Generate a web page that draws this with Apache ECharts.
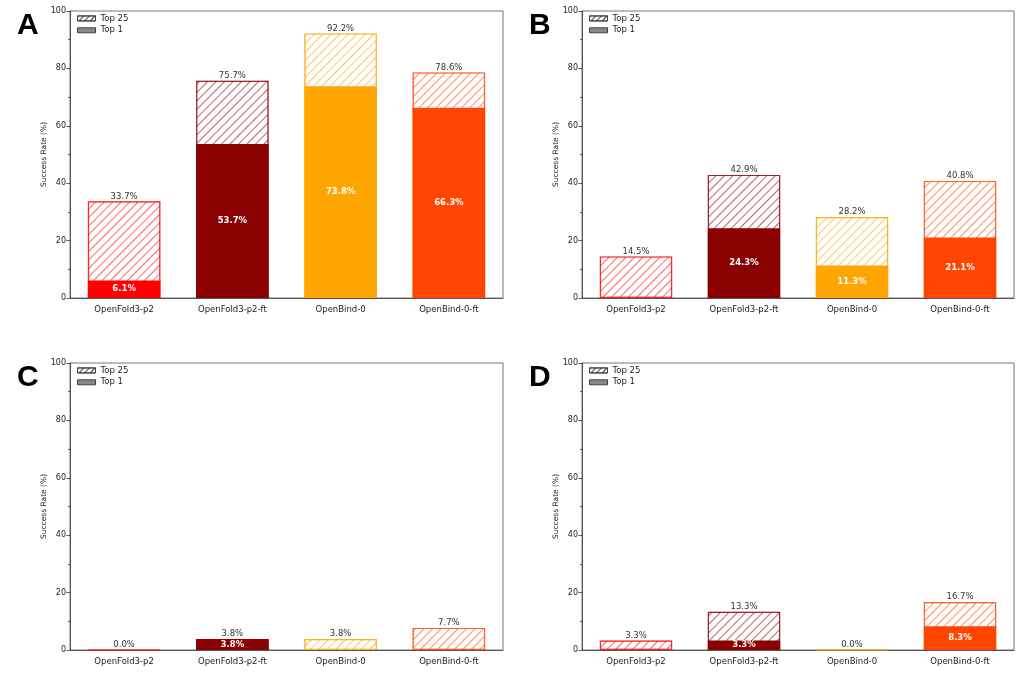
<!DOCTYPE html>
<title>success rates</title>
<style>
body {margin: 0; background: #fff;}
#echart {height: 682px; width: 1024px;}
</style>
<div id='echart'></div>
<script src='https://cdn.jsdelivr.net/npm/echarts@6.0.0/dist/echarts.min.js'></script>
<script>
let models = ['OpenFold3-p2', 'OpenFold3-p2-ft', 'OpenBind-0', 'OpenBind-0-ft']
let model_colors = ['255,0,0', '139,0,0', '255,165,0', '255,69,0']
let panel_names = ['A', 'B', 'C', 'D']
let top25_a = [33.7, 75.7, 92.2, 78.6]
let top1_a = [6.1, 53.7, 73.8, 66.3]
let top25_b = [14.5, 42.9, 28.2, 40.8]
let top1_b = [0, 24.3, 11.3, 21.1]
let top25_c = [0.0, 3.8, 3.8, 7.7]
let top1_c = [0, 3.8, 0, 0]
let top25_d = [3.3, 13.3, 0.0, 16.7]
let top1_d = [0, 3.3, 0, 8.3]
let y_ticks = [0, 20, 40, 60, 80, 100]

let top25 = [top25_a, top25_b, top25_c, top25_d]
let top1 = [top1_a, top1_b, top1_c, top1_d]
let grids = [
	{left: 70, top: 11, width: 433, height: 287},
	{left: 582, top: 11, width: 432, height: 287},
	{left: 70, top: 363, width: 433, height: 287},
	{left: 582, top: 363, width: 432, height: 287},
]
let font = 'DejaVu Sans'

function hatch(color, width, gap) {
	return {symbol: 'rect', symbolSize: 1, dashArrayX: [1, 0], dashArrayY: [width, gap], rotation: -Math.PI / 4, color: color}
}

let series = []
let legends = []
let titles = []
grids.forEach(function (g, i) {
	series.push({
		type: 'bar', name: 'Top 25', xAxisIndex: i, yAxisIndex: i, barWidth: '67%', barGap: '-100%',
		data: top25[i].map(function (v, j) {
			let c = 'rgba(' + model_colors[j] + ',0.6)'
			return {value: v, itemStyle: {color: '#fff', borderColor: c, borderWidth: 1.2, decal: hatch(c, 1, 4.6)}}
		}),
		label: {show: true, position: 'top', distance: -3.5, fontFamily: font, fontSize: 8.5, color: '#333', formatter: function (p) {return p.value.toFixed(1) + '%'}},
	})
	series.push({
		type: 'bar', name: 'Top 1', xAxisIndex: i, yAxisIndex: i, barWidth: '67%', barGap: '-100%',
		data: top1[i].map(function (v, j) {
			return {value: v, itemStyle: {color: 'rgb(' + model_colors[j] + ')'}}
		}),
		label: {show: true, position: 'inside', fontFamily: font, fontSize: 8.5, fontWeight: 'bold', color: '#fff', formatter: function (p) {return p.value > 0 ? p.value.toFixed(1) + '%' : ''}},
	})
	legends.push({
		left: g.left + 7, top: g.top - 1, padding: 0, orient: 'vertical', itemWidth: 18, itemHeight: 5, itemGap: -5, icon: 'rect',
		textStyle: {fontFamily: font, fontSize: 8.5, color: '#222', lineHeight: 10},
		selectedMode: false,
		data: [
			{name: 'Top 25', itemStyle: {color: '#fff', borderColor: '#444', borderWidth: 1, decal: hatch('#444', 1, 2.5)}},
			{name: 'Top 1', itemStyle: {color: '#888', borderColor: '#444', borderWidth: 1}},
		],
	})
	titles.push({text: panel_names[i], left: g.left - 53, top: g.top - 11, padding: 0, textStyle: {fontFamily: 'Liberation Sans', fontSize: 30, fontWeight: 900, color: '#000'}})
})

let echart = echarts.init(document.querySelector('#echart'))
let option = {
	animation: false,
	title: titles,
	legend: legends,
	grid: grids.map(function (g) {return Object.assign({show: true, borderColor: '#777', borderWidth: 1, containLabel: false}, g)}),
	xAxis: grids.map(function (g, i) {return {
		type: 'category', gridIndex: i, data: models,
		axisLine: {lineStyle: {color: '#555'}},
		axisTick: {alignWithLabel: true, length: 3.5, lineStyle: {color: '#555'}},
		axisLabel: {fontFamily: font, fontSize: 8.5, color: '#222', margin: 3},
	}}),
	yAxis: grids.map(function (g, i) {return {
		type: 'value', gridIndex: i, min: y_ticks[0], max: y_ticks[y_ticks.length - 1], interval: 20,
		name: 'Success Rate (%)', nameLocation: 'middle', nameGap: 19, nameRotate: 90, nameMoveOverlap: false,
		nameTextStyle: {fontFamily: font, fontSize: 7.5, color: '#222'},
		axisLine: {show: true, lineStyle: {color: '#555'}},
		axisTick: {show: true, length: 3.5, lineStyle: {color: '#555'}},
		minorTick: {show: true, splitNumber: 2, length: 2, lineStyle: {color: '#555'}},
		splitLine: {show: false},
		axisLabel: {fontFamily: font, fontSize: 8, color: '#222', margin: 4},
	}}),
	series: series,
}
echart.setOption(option)
</script>
